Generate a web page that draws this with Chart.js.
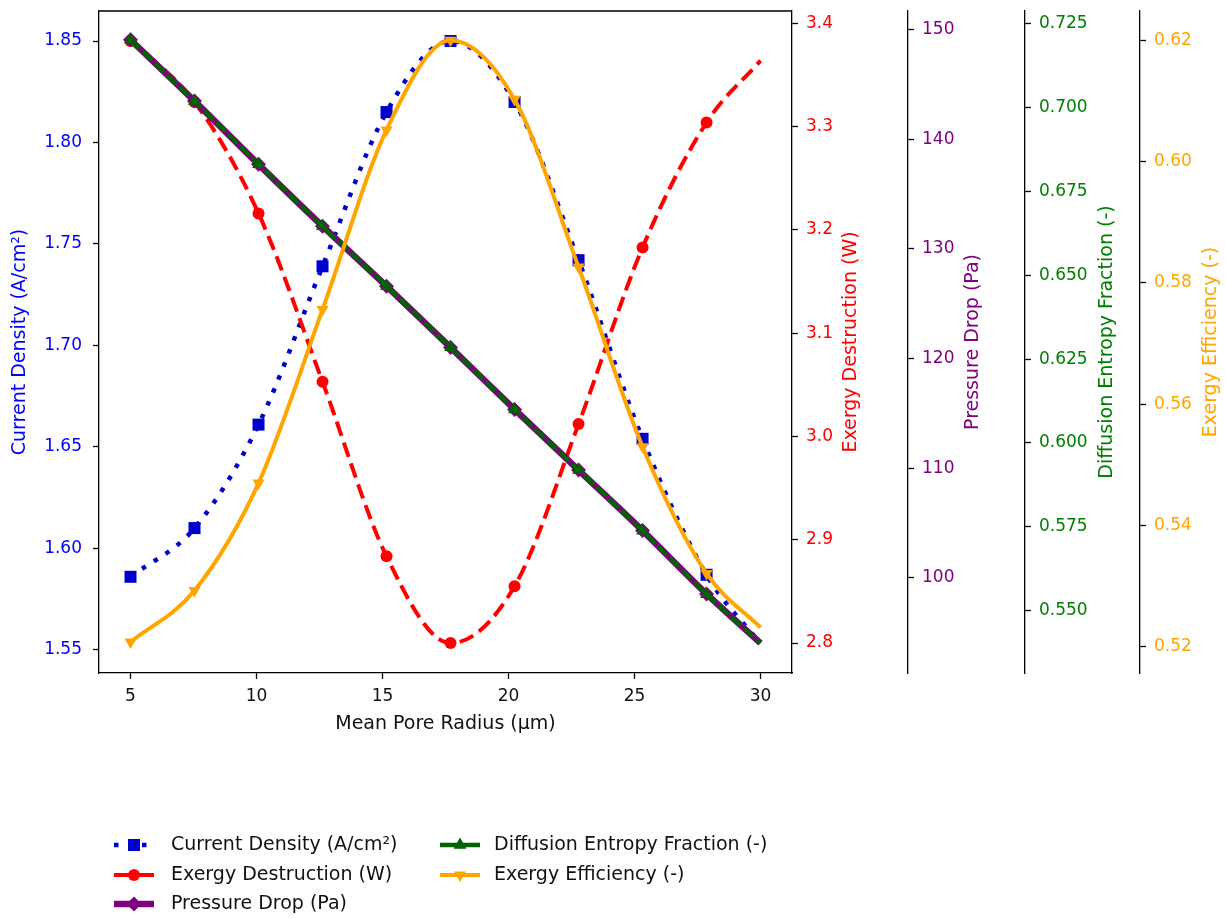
<!DOCTYPE html>
<html>
<head>
<meta charset="utf-8">
<script src="https://cdn.jsdelivr.net/npm/chart.js@4.4.1/dist/chart.umd.min.js"></script>
<style>
  html, body { margin: 0; padding: 0; background: #fff; }
  #grafico { display: block; }
</style>
</head>
<body>
<canvas id="grafico" width="1225" height="918"></canvas>
<script>
// === DADOS ===
const poreRadius = [5, 7.54, 10.08, 12.62, 15.16, 17.70, 20.24, 22.78, 25.32, 27.86, 30];
const currentDensity = [1.586, 1.610, 1.661, 1.739, 1.815, 1.850, 1.820, 1.742, 1.654, 1.587, 1.553];
const exergyDestruction = [3.383, 3.324, 3.216, 3.053, 2.884, 2.800, 2.855, 3.012, 3.183, 3.304, 3.364];
const pressureDrop = [149.06, 143.47, 137.70, 132.06, 126.59, 121.01, 115.36, 109.83, 104.31, 98.54, 94.05];
const diffusionFraction = [0.7202, 0.7019, 0.6831, 0.6646, 0.6467, 0.6285, 0.6100, 0.5919, 0.5738, 0.5549, 0.5403];
const exergyEfficiency = [0.5208, 0.5293, 0.5470, 0.5756, 0.6052, 0.6200, 0.6102, 0.5826, 0.5530, 0.5321, 0.5232];

// === TICKS ===
const ticksX = [5, 10, 15, 20, 25, 30];
const ticksCurrent = [1.55, 1.60, 1.65, 1.70, 1.75, 1.80, 1.85];
const ticksExergy = [2.8, 2.9, 3.0, 3.1, 3.2, 3.3, 3.4];
const ticksPressure = [100, 110, 120, 130, 140, 150];
const ticksDiffusion = [0.550, 0.575, 0.600, 0.625, 0.650, 0.675, 0.700, 0.725];
const ticksEfficiency = [0.52, 0.54, 0.56, 0.58, 0.60, 0.62];

const FONT = "'DejaVu Sans', sans-serif";
const MARKED = 10; // markers only on the first 10 points

const series = [
  { label: "Current Density (A/cm²)", data: currentDensity, axis: "y", color: "#0000cd", width: 4.5, dash: [4.5, 9.5], legendDash: [4.5, 9.5], marker: "square", r: 8.5, order: 5 },
  { label: "Exergy Destruction (W)", data: exergyDestruction, axis: "y1", color: "#ff0000", width: 4, dash: [15, 7], legendDash: [], marker: "circle", r: 6, order: 4 },
  { label: "Pressure Drop (Pa)", data: pressureDrop, axis: "y2", color: "#800080", width: 6.5, dash: [], legendDash: [], marker: "diamond", r: 7.5, order: 3 },
  { label: "Diffusion Entropy Fraction (-)", data: diffusionFraction, axis: "y3", color: "#006400", width: 4.5, dash: [13, 4], legendDash: [], marker: "triangle", r: 7.5, order: 2 },
  { label: "Exergy Efficiency (-)", data: exergyEfficiency, axis: "y4", color: "#ffa500", width: 4, dash: [], legendDash: [], marker: "triangleDown", r: 7, order: 1 },
];

const pointStyles = { square: "rect", circle: "circle", diamond: "rectRot", triangle: "triangle", triangleDown: "triangle" };

// === EIXOS ===
function yAxis(pos, min, max, ticks, decimals, color, width) {
  return {
    type: "linear",
    position: pos,
    min, max,
    afterBuildTicks: (s) => { s.ticks = ticks.map((v) => ({ value: v })); },
    afterFit: (s) => {
      s.width = width;
      s.paddingTop = 0;
      s.paddingBottom = 0;
    },
    grid: { drawOnChartArea: false, drawTicks: true, tickLength: 6, color: "#000", tickWidth: 1.3 },
    border: { display: true, color: "#000", width: 1.3 },
    ticks: { color, padding: pos === "left" ? 11 : 8, font: { family: FONT, size: 17 }, callback: (v) => Number(v).toFixed(decimals) },
  };
}

// === TÍTULOS, MOLDURA E LEGENDA ===
const extras = {
  id: "extras",
  afterDraw(chart) {
    const { ctx, chartArea: a } = chart;
    ctx.save();
    ctx.strokeStyle = "#000";
    ctx.lineWidth = 1.3;
    ctx.beginPath();
    ctx.moveTo(a.left, a.top);
    ctx.lineTo(a.right, a.top);
    ctx.stroke();

    ctx.font = "19px " + FONT;
    ctx.textAlign = "center";
    ctx.textBaseline = "middle";
    ctx.fillStyle = "#111";
    ctx.fillText("Mean Pore Radius (μm)", (a.left + a.right) / 2, a.bottom + 51);

    const midY = (a.top + a.bottom) / 2;
    const yTitles = [
      ["Current Density (A/cm²)", 20, "blue"],
      ["Exergy Destruction (W)", 851, "red"],
      ["Pressure Drop (Pa)", 973, "purple"],
      ["Diffusion Entropy Fraction (-)", 1107, "green"],
      ["Exergy Efficiency (-)", 1211, "orange"],
    ];
    yTitles.forEach(([t, x, c]) => {
      ctx.save();
      ctx.translate(x, midY);
      ctx.rotate(-Math.PI / 2);
      ctx.fillStyle = c;
      ctx.fillText(t, 0, 0);
      ctx.restore();
    });

    // legenda em duas colunas
    const slots = [[114, 171, 845], [114, 171, 875], [114, 171, 904], [440, 494, 845], [440, 494, 875]];
    series.forEach((s, i) => {
      const [hx, tx, y] = slots[i];
      ctx.save();
      ctx.strokeStyle = s.color;
      ctx.lineWidth = s.width;
      ctx.setLineDash(s.legendDash);
      ctx.beginPath();
      ctx.moveTo(hx, y);
      ctx.lineTo(hx + 40, y);
      ctx.stroke();
      ctx.setLineDash([]);
      drawMarker(ctx, s.marker, hx + 20, y, s.r, s.color);
      ctx.restore();
      ctx.fillStyle = "#111";
      ctx.textAlign = "left";
      ctx.fillText(s.label, tx, y);
    });
    ctx.restore();
  },
};

function drawMarker(ctx, kind, x, y, r, color) {
  ctx.fillStyle = color;
  ctx.beginPath();
  if (kind === "square") {
    const h = r * Math.SQRT1_2;
    ctx.rect(x - h, y - h, 2 * h, 2 * h);
  } else if (kind === "circle") {
    ctx.arc(x, y, r, 0, Math.PI * 2);
  } else if (kind === "diamond") {
    ctx.moveTo(x, y - r); ctx.lineTo(x + r, y); ctx.lineTo(x, y + r); ctx.lineTo(x - r, y);
  } else {
    const d = kind === "triangle" ? 1 : -1;
    for (let k = 0; k < 3; k++) {
      const ang = (k * 2 * Math.PI) / 3;
      const px = x + Math.sin(ang) * r;
      const py = y - d * Math.cos(ang) * r;
      k === 0 ? ctx.moveTo(px, py) : ctx.lineTo(px, py);
    }
  }
  ctx.closePath();
  ctx.fill();
}

// === GRÁFICO ===
new Chart(document.getElementById("grafico"), {
  type: "line",
  data: {
    datasets: series.map((s) => ({
      label: s.label,
      data: poreRadius.map((x, i) => ({ x, y: s.data[i] })),
      yAxisID: s.axis,
      borderColor: s.color,
      backgroundColor: s.color,
      borderWidth: s.width,
      borderDash: s.dash,
      cubicInterpolationMode: "monotone",
      pointStyle: pointStyles[s.marker],
      rotation: s.marker === "triangleDown" ? 180 : 0,
      pointRadius: (c) => (c.dataIndex < MARKED ? s.r : 0),
      pointBorderWidth: 0,
      pointHoverRadius: 0,
      order: s.order,
      fill: false,
    })),
  },
  options: {
    responsive: false,
    animation: false,
    events: [],
    layout: { padding: { left: 0, right: 0, top: 11, bottom: 205 } },
    plugins: { legend: { display: false }, tooltip: { enabled: false } },
    scales: {
      x: {
        type: "linear",
        min: 3.75,
        max: 31.25,
        afterBuildTicks: (s) => { s.ticks = ticksX.map((v) => ({ value: v })); },
        afterFit: (s) => { s.height = 40; },
        grid: { drawOnChartArea: false, drawTicks: true, tickLength: 6, color: "#000", tickWidth: 1.3 },
        border: { display: true, color: "#000", width: 1.3 },
        ticks: { color: "#111", padding: 7, maxRotation: 0, font: { family: FONT, size: 17 } },
      },
      y: yAxis("left", 1.5386, 1.8648, ticksCurrent, 2, "blue", 99),
      y1: yAxis("right", 2.7710, 3.4120, ticksExergy, 1, "red", 116),
      y2: yAxis("right", 91.33, 151.68, ticksPressure, 0, "purple", 117),
      y3: yAxis("right", 0.5314, 0.7288, ticksDiffusion, 3, "green", 115),
      y4: yAxis("right", 0.5157, 0.6248, ticksEfficiency, 2, "orange", 85),
    },
  },
  plugins: [extras],
});
</script>
</body>
</html>
